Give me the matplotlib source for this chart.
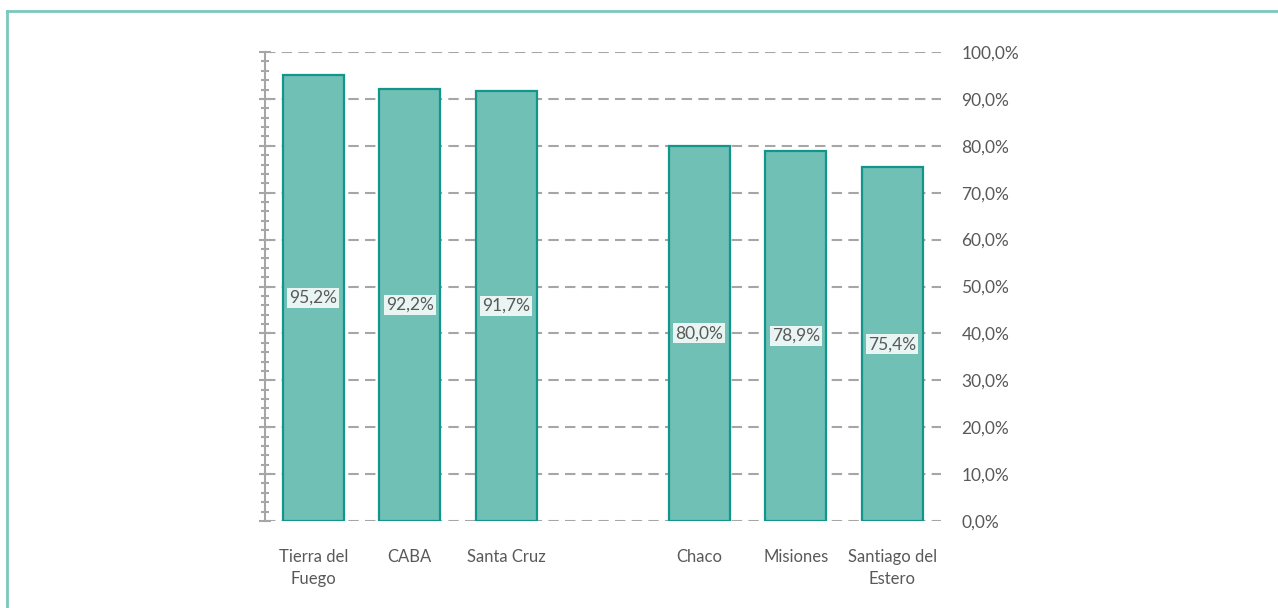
import numpy as np
import matplotlib.pyplot as plt
from matplotlib.lines import Line2D
from matplotlib.ticker import MultipleLocator, FuncFormatter

# Datos (el hueco vacío separa los dos grupos)
provincias = ["Tierra del\nFuego", "CABA", "Santa Cruz", "", "Chaco", "Misiones", "Santiago del\nEstero"]
valores = [95.2, 92.2, 91.7, np.nan, 80.0, 78.9, 75.4]
etiquetas = ["95,2%", "92,2%", "91,7%", "", "80,0%", "78,9%", "75,4%"]

plt.rcParams['font.family'] = ['Lato', 'DejaVu Sans']

color_barra = "#70c0b5"
color_borde = "#12968c"
color_grid = "#a6a6a6"
color_texto = "#595959"

fig = plt.figure(figsize=(12.78, 6.08), dpi=100)
ax = fig.add_axes([265 / 1278, 1 - 521 / 608, 675.5 / 1278, 469 / 608])

x = np.arange(len(provincias))
ax.bar(x, valores, width=0.63, color=color_barra, edgecolor=color_borde, linewidth=1.6, zorder=3)

# etiquetas en el medio de cada barra
for xi, v, t in zip(x, valores, etiquetas):
    if np.isnan(v):
        continue
    ax.text(xi, v / 2, t, ha="center", va="center", fontsize=12.5, color=color_texto, zorder=4,
            bbox=dict(boxstyle="square,pad=0.12", facecolor="#e9f5f3", edgecolor="none"))

ax.set_xlim(-0.5, len(provincias) - 0.5)
ax.set_ylim(0, 100)

ax.set_xticks(x)
ax.set_xticklabels(provincias, fontsize=12, color=color_texto, linespacing=1.45)
ax.tick_params(axis="x", length=0, pad=20)

# eje y: marcas a la izquierda (cruzando el eje), etiquetas a la derecha
ax.yaxis.set_major_locator(MultipleLocator(10))
ax.yaxis.set_minor_locator(MultipleLocator(2))
ax.yaxis.set_major_formatter(FuncFormatter(lambda v, p: f"{v:.1f}%".replace(".", ",")))
ax.tick_params(axis="y", which="both", left=True, right=False, labelleft=False, labelright=True,
               direction="inout", length=8, width=1.5, color=color_grid,
               labelsize=12.5, labelcolor=color_texto, pad=11)
ax.tick_params(axis="y", which="minor", length=6)

ax.grid(axis="y", color=color_grid, linestyle=(0, (5, 3)), linewidth=1.5, zorder=0)

for s in ["top", "right", "bottom"]:
    ax.spines[s].set_visible(False)
ax.spines["left"].set_color(color_grid)
ax.spines["left"].set_linewidth(1.5)

# borde de la figura (arriba e izquierda)
fig.add_artist(Line2D([7 / 1278, 7 / 1278], [0, 1 - 11 / 608], color="#7cc8bd", linewidth=2))
fig.add_artist(Line2D([7 / 1278, 1], [1 - 11 / 608, 1 - 11 / 608], color="#7cc8bd", linewidth=2))

fig.savefig("out.png", dpi=100)
